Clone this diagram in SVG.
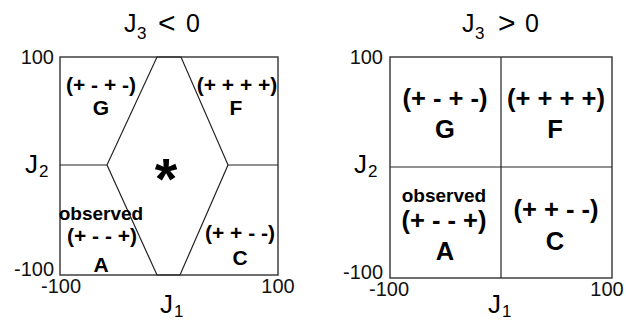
<svg xmlns="http://www.w3.org/2000/svg" width="626" height="320" viewBox="0 0 626 320">
<style>
text{font-family:"Liberation Sans",Arial,sans-serif;fill:#000}
.ax{font-size:20px;fill:#111}
.ttl{font-size:25px}
.op{font-size:30px}
.sub{font-size:17px}
.lab{font-size:26px}
.bl{font-weight:bold;font-size:21px;text-anchor:middle}
.br{font-weight:bold;font-size:25.5px;text-anchor:middle}
.obs{font-weight:bold;font-size:19px;text-anchor:middle}
.ln{fill:none;stroke:#222;stroke-width:1.2}
.box{fill:none;stroke:#333;stroke-width:1.4}
</style>
<rect width="626" height="320" fill="#fff"/>
<g id="panel-left">
<text class="ttl" x="124" y="32">J</text><text class="sub" x="137" y="39">3</text>
<text class="op" x="158" y="33">&lt;</text><text class="ttl" x="186" y="32">0</text>
<rect class="box" x="60" y="57" width="218" height="218"/>
<text class="ax" x="54" y="64" text-anchor="end">100</text>
<text class="ax" x="54" y="276" text-anchor="end">-100</text>
<text class="ax" x="61" y="293" text-anchor="middle">-100</text>
<text class="ax" x="278" y="293" text-anchor="middle">100</text>
<text class="lab" x="160" y="313">J</text><text class="sub" x="174" y="317">1</text>
<text class="lab" x="25" y="173">J</text><text class="sub" x="39" y="177">2</text>
</g>
<g id="connectors">
<polyline class="ln" points="60,165 107,165 157,57 181,57 228,165 278,165"/>
<polyline class="ln" points="107,165 157,275 180,275 228,165"/>
<line class="ln" x1="501" y1="57" x2="501" y2="278"/>
<line class="ln" x1="390" y1="167" x2="612" y2="167"/>
</g>
<g id="region-left-G"><text class="bl" x="101" y="92">(+ - + -)</text><text class="bl" x="101" y="115">G</text></g>
<g id="region-left-F"><text class="bl" x="237" y="92">(+ + + +)</text><text class="bl" x="236" y="115">F</text></g>
<g id="region-left-star"><text x="166" y="199" font-weight="bold" font-size="58" text-anchor="middle">*</text></g>
<g id="region-left-A"><text class="obs" x="101" y="220">observed</text><text class="bl" x="102" y="243">(+ - - +)</text><text class="bl" x="101" y="272">A</text></g>
<g id="region-left-C"><text class="bl" x="240" y="240">(+ + - -)</text><text class="bl" x="240" y="265">C</text></g>
<g id="panel-right">
<text class="ttl" x="462" y="32">J</text><text class="sub" x="475" y="39">3</text>
<text class="op" x="498" y="33">&gt;</text><text class="ttl" x="525" y="32">0</text>
<rect class="box" x="390" y="57" width="222" height="221"/>
<text class="ax" x="383" y="64" text-anchor="end">100</text>
<text class="ax" x="383" y="279" text-anchor="end">-100</text>
<text class="ax" x="389" y="296" text-anchor="middle">-100</text>
<text class="ax" x="607" y="296" text-anchor="middle">100</text>
<text class="lab" x="488" y="313">J</text><text class="sub" x="502" y="317">1</text>
<text class="lab" x="354" y="173">J</text><text class="sub" x="368" y="177">2</text>
</g>
<g id="region-right-G"><text class="br" x="445" y="107">(+ - + -)</text><text class="br" x="445" y="138">G</text></g>
<g id="region-right-F"><text class="br" x="556" y="107">(+ + + +)</text><text class="br" x="555" y="138">F</text></g>
<g id="region-right-A"><text class="obs" x="444" y="202">observed</text><text class="br" x="444" y="229">(+ - - +)</text><text class="br" x="445" y="260">A</text></g>
<g id="region-right-C"><text class="br" x="556" y="218">(+ + - -)</text><text class="br" x="555" y="250">C</text></g>
</svg>
